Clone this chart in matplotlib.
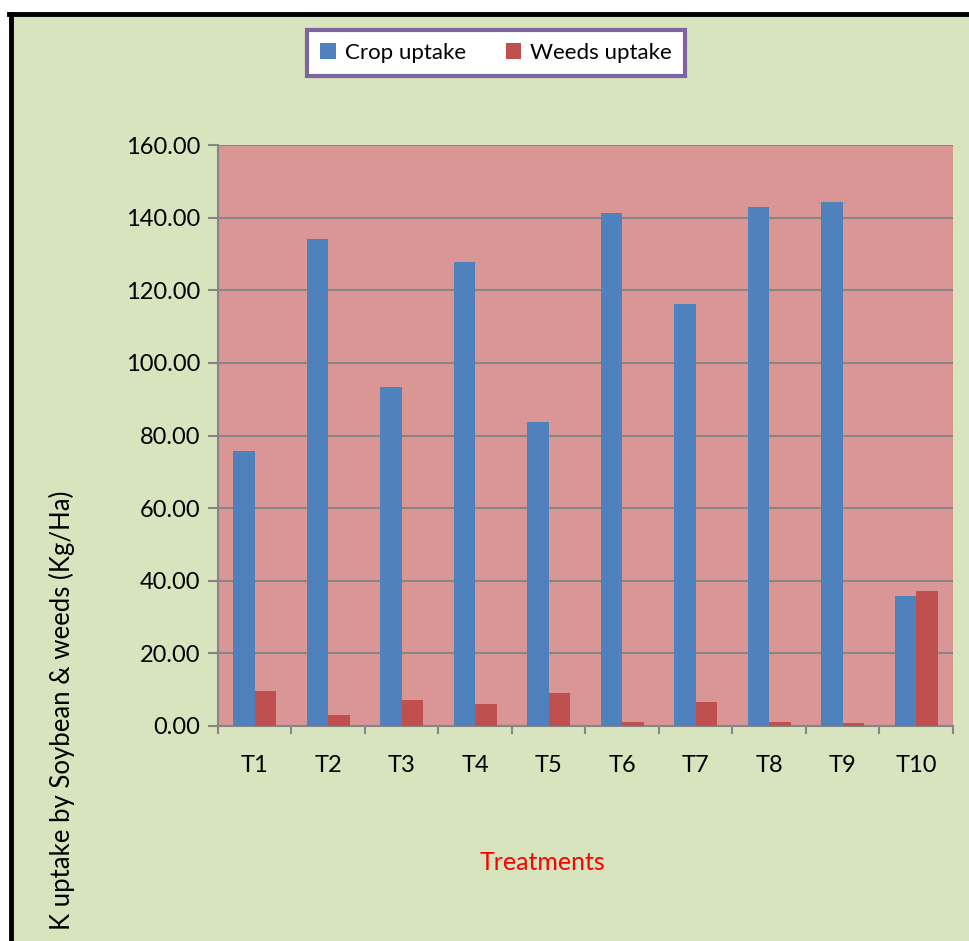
import numpy as np
import matplotlib.pyplot as plt
from matplotlib.patches import Rectangle
from matplotlib.lines import Line2D

treatments = ['T1', 'T2', 'T3', 'T4', 'T5', 'T6', 'T7', 'T8', 'T9', 'T10']
crop_uptake = [75.8, 134.2, 93.4, 127.8, 83.7, 141.3, 116.3, 143.0, 144.3, 35.8]
weeds_uptake = [9.6, 3.0, 7.2, 6.1, 9.1, 1.1, 6.6, 1.1, 0.8, 37.2]

W, H = 970, 941
plt.rcParams['font.family'] = ['Lato', 'DejaVu Sans']

fig = plt.figure(figsize=(W / 100, H / 100), dpi=100, facecolor='white')

# green panel, black border only on top and left
fig.patches.append(Rectangle((11 / W, 0), 1, 1 - 14 / H,
                             transform=fig.transFigure, facecolor='#D7E4BD',
                             edgecolor='none', zorder=-2))
fig.lines.append(Line2D([11 / W, 11 / W], [0, 1 - 14 / H], transform=fig.transFigure,
                        color='black', linewidth=3.5, zorder=-1))
fig.lines.append(Line2D([9.3 / W, 1], [1 - 14 / H, 1 - 14 / H], transform=fig.transFigure,
                        color='black', linewidth=3.5, zorder=-1))

ax = fig.add_axes([218 / W, 1 - 726 / H, (953 - 218) / W, (726 - 145) / H])
ax.set_zorder(2)
ax.set_facecolor('#D99694')

x = np.arange(len(treatments))
bw = 0.29
ax.bar(x - bw / 2, crop_uptake, bw, color='#4F81BD', label='Crop uptake', zorder=3)
ax.bar(x + bw / 2, weeds_uptake, bw, color='#C0504D', label='Weeds uptake', zorder=3)

ax.set_xlim(-0.5, len(treatments) - 0.5)
ax.set_ylim(0, 160)
ax.set_yticks(np.arange(0, 161, 20))
ax.set_yticklabels(['%.2f' % v for v in np.arange(0, 161, 20)], fontsize=17)
ax.yaxis.grid(True, color='#868686', linewidth=1.5, zorder=1)
ax.set_axisbelow(True)

ax.set_xticks(x)
ax.set_xticklabels(treatments, fontsize=17)
ax.set_xticks(np.arange(-0.5, len(treatments)), minor=True)
ax.tick_params(axis='x', which='major', length=0, pad=21)
ax.tick_params(axis='x', which='minor', length=6, width=1.5, color='#868686')
ax.tick_params(axis='y', length=7, width=1.5, color='#868686', pad=6)

for s in ['top', 'right']:
    ax.spines[s].set_visible(False)
for s in ['left', 'bottom']:
    ax.spines[s].set_color('#868686')
    ax.spines[s].set_linewidth(1.5)

fig.text(543 / W, 1 - 862 / H, 'Treatments', color='red', fontsize=18,
         ha='center', va='center')
fig.text(62 / W, 1 - 710 / H, 'K uptake by Soybean & weeds (Kg/Ha)', fontsize=18.5,
         rotation=90, ha='center', va='center')

leg = fig.legend(loc='center', bbox_to_anchor=(496 / W, 1 - 53 / H), ncol=2,
                 fontsize=16, frameon=True, fancybox=False, handlelength=0.7,
                 handleheight=0.7, columnspacing=1.8, borderpad=0.6,
                 handletextpad=0.4)
leg.get_frame().set_edgecolor('#8064A2')
leg.get_frame().set_linewidth(3)
leg.get_frame().set_facecolor('white')
leg.get_frame().set_alpha(1)

fig.savefig('out.png', dpi=100, facecolor='white')
